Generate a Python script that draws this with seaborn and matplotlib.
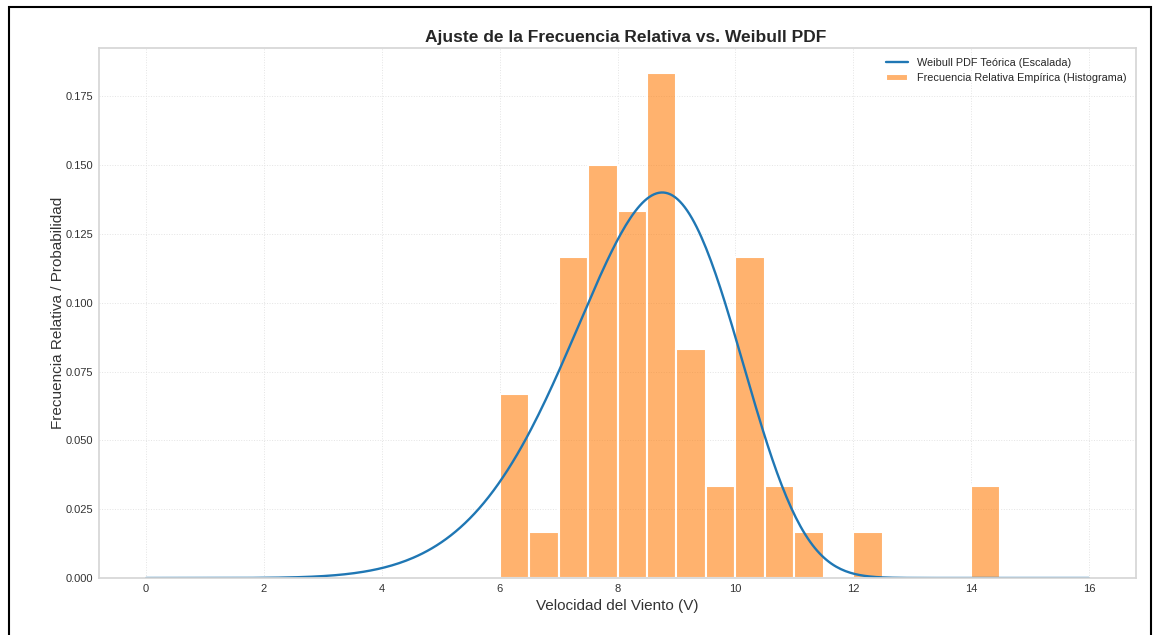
import numpy as np
import pandas as pd
import matplotlib
matplotlib.use("Agg")
import matplotlib.pyplot as plt
import seaborn as sns
from matplotlib.patches import Rectangle

# --- Data ---
bin_edges = [6.0, 6.5, 7.0, 7.5, 8.0, 8.5, 9.0, 9.5, 10.0, 10.5, 11.0, 11.5,
             12.0, 12.5, 13.0, 13.5, 14.0, 14.5]
rel_freq = [4/60, 1/60, 7/60, 9/60, 8/60, 11/60, 5/60, 2/60, 7/60, 2/60, 1/60, 0.0,
            1/60, 0.0, 0.0, 0.0, 2/60]
# Fitted Weibull parameters (estimated from the curve shape)
weibull_shape = 6.75
weibull_scale = 8.97
bin_width = 0.5
v_min, v_max = 0.0, 16.0

centers = [(a + b) / 2 for a, b in zip(bin_edges[:-1], bin_edges[1:])]
hist_df = pd.DataFrame({"v": centers, "f": rel_freq})

v = np.linspace(v_min, v_max, 400)
pdf = (weibull_shape / weibull_scale) * (v / weibull_scale) ** (weibull_shape - 1) \
    * np.exp(-(v / weibull_scale) ** weibull_shape) * bin_width
curve_df = pd.DataFrame({"v": v, "p": pdf})

sns.set_theme(style="whitegrid")
plt.rcParams["font.family"] = ["Liberation Sans", "DejaVu Sans"]
plt.rcParams["grid.linestyle"] = ":"
plt.rcParams["grid.color"] = "#e4e4e4"
plt.rcParams["grid.linewidth"] = 0.7
plt.rcParams["axes.edgecolor"] = "#d6d6d6"

fig = plt.figure(figsize=(11.54, 6.35), dpi=100)
ax = fig.add_axes([99/1154, 1 - 578/635, (1136 - 99)/1154, (578 - 48)/635])

sns.lineplot(data=curve_df, x="v", y="p", ax=ax, color="#1f77b4", linewidth=1.7,
             label="Weibull PDF Teórica (Escalada)")
sns.histplot(data=hist_df, x="v", weights="f", bins=bin_edges, ax=ax,
             color="#ff7f0e", alpha=0.6, edgecolor="white", linewidth=1.5,
             label="Frecuencia Relativa Empírica (Histograma)")

ax.set_xlim(-0.8, 16.8)
ax.set_ylim(0, 0.1925)
ax.set_xticks([0, 2, 4, 6, 8, 10, 12, 14, 16])
ax.set_yticks([0.0, 0.025, 0.05, 0.075, 0.1, 0.125, 0.15, 0.175])
ax.set_yticklabels(["0.000", "0.025", "0.050", "0.075", "0.100", "0.125", "0.150", "0.175"])
ax.tick_params(axis="both", labelsize=8, colors="#333333", length=0, pad=4)
ax.set_xlabel("Velocidad del Viento (V)", fontsize=11, color="#333333", labelpad=4)
ax.set_ylabel("Frecuencia Relativa / Probabilidad", fontsize=11, color="#333333", labelpad=0.5)
ax.set_title("Ajuste de la Frecuencia Relativa vs. Weibull PDF", fontsize=12.5,
             fontweight="bold", color="#262626", pad=4, x=0.508)
ax.legend(loc="upper right", fontsize=7.8, frameon=False)

# black outer frame as in the screenshot
fig.patches.append(Rectangle((9/1154, -0.05), (1151 - 9)/1154, 1 - 7/635 + 0.05,
                             transform=fig.transFigure, fill=False,
                             edgecolor="black", linewidth=1.5))

fig.savefig("out.png", dpi=100)
